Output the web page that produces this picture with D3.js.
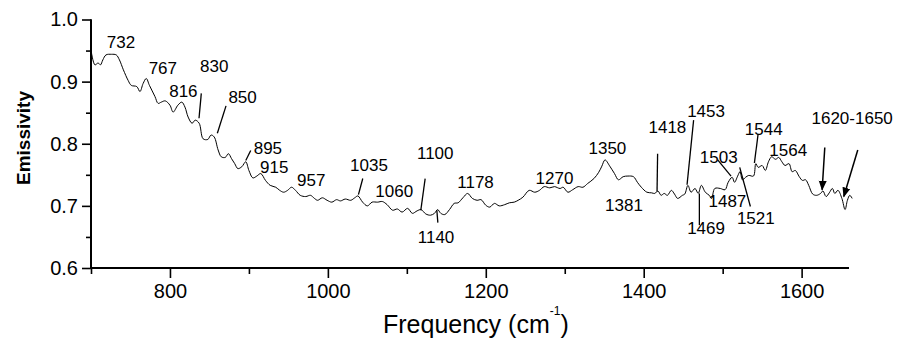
<!DOCTYPE html>
<html>
<head>
<meta charset="utf-8">
<script src="https://cdn.jsdelivr.net/npm/d3@7"></script>
<style>
  body { margin: 0; background: #fff; }
  svg { font-family: Arial, "Liberation Sans", sans-serif; }
</style>
</head>
<body>
<svg id="chart" width="898" height="345"></svg>
<script>
// spectrum
const freq = [700,705,709,712,715,719,726,732,736,741,747,751,758,762,766,770,774,781,785,789,794,800,804,810,815,819,823,828,832,837,842,848,852,856,861,865,870,874,878,882,886,891,896,900,905,910,915,921,927,934,939,944,949,954,959,965,972,978,983,987,993,999,1005,1011,1016,1022,1029,1034,1038,1044,1050,1056,1063,1069,1075,1082,1088,1094,1101,1107,1113,1118,1124,1130,1135,1139,1143,1148,1154,1160,1165,1171,1177,1183,1189,1194,1200,1205,1211,1217,1224,1230,1236,1241,1247,1255,1262,1268,1274,1281,1287,1294,1298,1304,1310,1317,1323,1329,1337,1343,1347,1351,1357,1363,1368,1374,1380,1387,1392,1397,1404,1410,1414,1418,1422,1426,1430,1435,1439,1443,1449,1452,1456,1460,1465,1469,1473,1478,1483,1486,1490,1497,1503,1507,1512,1515,1519,1522,1525,1529,1533,1539,1542,1545,1550,1554,1558,1562,1567,1571,1575,1579,1584,1588,1592,1597,1601,1605,1609,1614,1619,1624,1627,1631,1635,1639,1642,1646,1651,1655,1658,1661,1664];
const emissivity = [0.951,0.927,0.930,0.927,0.935,0.943,0.944,0.943,0.935,0.919,0.902,0.894,0.892,0.884,0.897,0.905,0.894,0.876,0.865,0.867,0.869,0.862,0.851,0.862,0.867,0.859,0.843,0.833,0.838,0.833,0.808,0.807,0.814,0.811,0.790,0.779,0.778,0.784,0.776,0.768,0.760,0.763,0.771,0.757,0.745,0.748,0.752,0.741,0.733,0.730,0.725,0.722,0.725,0.730,0.725,0.717,0.715,0.717,0.712,0.709,0.713,0.709,0.706,0.710,0.708,0.711,0.709,0.713,0.716,0.706,0.700,0.706,0.706,0.707,0.702,0.693,0.695,0.690,0.696,0.688,0.692,0.694,0.687,0.685,0.688,0.694,0.688,0.686,0.694,0.704,0.705,0.713,0.720,0.712,0.709,0.710,0.701,0.698,0.704,0.700,0.702,0.705,0.706,0.709,0.714,0.725,0.722,0.725,0.731,0.729,0.731,0.728,0.730,0.722,0.726,0.731,0.730,0.736,0.744,0.754,0.764,0.774,0.764,0.752,0.742,0.747,0.748,0.747,0.738,0.730,0.722,0.721,0.720,0.724,0.717,0.720,0.717,0.725,0.719,0.712,0.717,0.719,0.733,0.722,0.728,0.720,0.733,0.722,0.717,0.712,0.728,0.728,0.726,0.738,0.746,0.738,0.748,0.755,0.742,0.746,0.749,0.748,0.768,0.762,0.765,0.757,0.771,0.779,0.775,0.778,0.771,0.765,0.768,0.755,0.757,0.747,0.741,0.742,0.733,0.719,0.717,0.720,0.724,0.715,0.721,0.728,0.720,0.725,0.712,0.694,0.709,0.717,0.712];

// peak labels: text, x (cm-1), y (emissivity) of the baseline centre
const labelText = ["732","767","830","816","850","895","915","957","1035","1060","1100","1140","1178","1270","1350","1381","1418","1453","1469","1487","1503","1521","1544","1564","1620-1650"];
const labelX = [738,791,856,817,892,924,932,979,1052,1084,1136,1137,1187,1287,1354,1375,1430,1479,1479,1506,1495,1542,1552,1583,1664];
const labelY = [0.954,0.912,0.915,0.875,0.866,0.783,0.753,0.732,0.756,0.714,0.775,0.640,0.729,0.735,0.783,0.692,0.817,0.843,0.655,0.698,0.769,0.671,0.814,0.780,0.832];

// leader lines [x1, y1, x2, y2]
const leaders = [
  [839.7,0.881,836.8,0.841],
  [871,0.861,860,0.817],
  [902.3,0.789,896,0.773],
  [1044.2,0.744,1038.7,0.718],
  [1123.2,0.744,1117.7,0.693],
  [1138,0.693,1139.3,0.673],
  [1417.6,0.784,1416.9,0.723],
  [1463.2,0.838,1454.9,0.734],
  [1470.5,0.720,1470.5,0.669],
  [1493.7,0.774,1510.6,0.748],
  [1521.6,0.762,1535.1,0.699],
  [1544.9,0.816,1540.2,0.769]
];
const arrows = [
  [1629.3,0.794,1626,0.726],
  [1671.1,0.790,1653.4,0.715]
];

const xMajor = [800,1000,1200,1400,1600];
const xMinor = [700,900,1100,1300,1500];
const yMajor = [0.6,0.7,0.8,0.9,1.0];
const yMinor = [0.65,0.75,0.85,0.95];

const svg = d3.select("#chart");
const plotLeft = 91, plotRight = 849, plotTop = 19.5, plotBottom = 268;

const x = d3.scaleLinear().domain([700, 1660]).range([plotLeft, plotRight]);
const y = d3.scaleLinear().domain([0.6, 1.0]).range([plotBottom, plotTop]);

svg.append("defs").append("marker")
  .attr("id", "head")
  .attr("viewBox", "0 0 10 10")
  .attr("refX", 9).attr("refY", 5)
  .attr("markerWidth", 10).attr("markerHeight", 10)
  .attr("markerUnits", "userSpaceOnUse")
  .attr("orient", "auto")
  .append("path").attr("d", "M0,1 L10,5 L0,9 Z").attr("fill", "#000");

// x axis
const gx = svg.append("g").attr("transform", "translate(0," + plotBottom + ")");
gx.call(d3.axisBottom(x).tickValues(xMajor).tickSize(10).tickPadding(6).tickFormat(d3.format("d")));
gx.append("g").call(d3.axisBottom(x).tickValues(xMinor).tickSize(6).tickFormat(""));
gx.selectAll(".domain").attr("stroke-width", 2).attr("d", "M" + plotLeft + ",0H" + plotRight);
gx.selectAll(".tick line").attr("stroke-width", 1.6);
gx.selectAll("text").attr("font-size", 20).attr("font-family", "Arial, 'Liberation Sans', sans-serif").attr("fill", "#000");

// y axis
const gy = svg.append("g").attr("transform", "translate(" + plotLeft + ",0)");
gy.call(d3.axisLeft(y).tickValues(yMajor).tickSize(9).tickPadding(4).tickFormat(d3.format(".1f")));
gy.append("g").call(d3.axisLeft(y).tickValues(yMinor).tickSize(5).tickFormat(""));
gy.selectAll(".domain").attr("stroke-width", 2).attr("d", "M0," + plotTop + "V" + plotBottom);
gy.selectAll(".tick line").attr("stroke-width", 1.6);
gy.selectAll("text").attr("font-size", 20).attr("font-family", "Arial, 'Liberation Sans', sans-serif").attr("fill", "#000");

// spectrum
const pts = freq.map((f, i) => [f, emissivity[i]]);
svg.append("path")
  .datum(pts)
  .attr("fill", "none")
  .attr("stroke", "#000")
  .attr("stroke-width", 1)
  .attr("d", d3.line().x(d => x(d[0])).y(d => y(d[1])).curve(d3.curveCatmullRom));

// leader lines
svg.append("g").selectAll("line")
  .data(leaders)
  .enter().append("line")
  .attr("x1", d => x(d[0])).attr("y1", d => y(d[1]))
  .attr("x2", d => x(d[2])).attr("y2", d => y(d[3]))
  .attr("stroke", "#000").attr("stroke-width", 1.3);

svg.append("g").selectAll("line")
  .data(arrows)
  .enter().append("line")
  .attr("x1", d => x(d[0])).attr("y1", d => y(d[1]))
  .attr("x2", d => x(d[2])).attr("y2", d => y(d[3]))
  .attr("stroke", "#000").attr("stroke-width", 1.5)
  .attr("marker-end", "url(#head)");

// labels
svg.append("g").selectAll("text")
  .data(labelText)
  .enter().append("text")
  .attr("x", (d, i) => x(labelX[i]))
  .attr("y", (d, i) => y(labelY[i]))
  .attr("text-anchor", "middle")
  .attr("font-size", 17)
  .text(d => d);

// axis titles
const xt = svg.append("text")
  .attr("x", 383).attr("y", 333)
  .attr("font-size", 25);
xt.append("tspan").text("Frequency (cm");
xt.append("tspan").attr("dx", 0).attr("dy", -18).attr("font-size", 12).text("-1");
xt.append("tspan").attr("dx", 0).attr("dy", 18).text(")");

svg.append("text")
  .attr("transform", "translate(30,138) rotate(-90)")
  .attr("text-anchor", "middle")
  .attr("font-size", 19)
  .attr("font-weight", "bold")
  .text("Emissivity");
</script>
</body>
</html>
